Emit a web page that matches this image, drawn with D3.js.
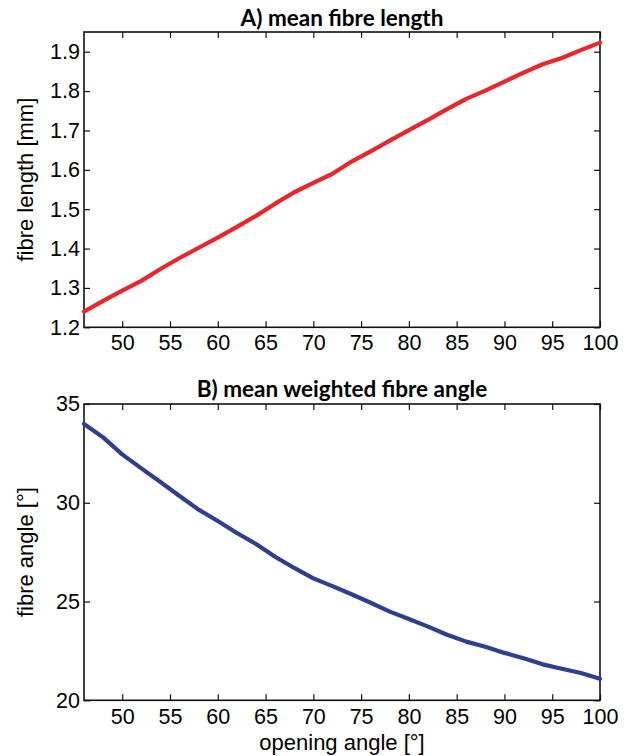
<!DOCTYPE html>
<html>
<head>
<meta charset="utf-8">
<script src="https://cdn.jsdelivr.net/npm/d3@7"></script>
<style>
  body { margin: 0; background: #fff; }
  svg text { font-family: "Liberation Sans", Arial, sans-serif; fill: #000; }
  .title { font-family: Lato, "Open Sans", sans-serif; font-weight: bold; }
</style>
</head>
<body>
<div id="chart"></div>
<script>
// opening angle (degrees)
var angles = [46, 48, 50, 52, 54, 56, 58, 60, 62, 64, 66, 68, 70, 72,
              74, 76, 78, 80, 82, 84, 86, 88, 90, 92, 94, 96, 98, 100];
// A) mean fibre length [mm]
var fibreLength = [1.240, 1.267, 1.293, 1.318, 1.348, 1.376, 1.402, 1.428, 1.455, 1.483,
                   1.514, 1.543, 1.567, 1.590, 1.621, 1.647, 1.674, 1.701, 1.727, 1.754,
                   1.780, 1.801, 1.824, 1.847, 1.868, 1.884, 1.904, 1.923];
// B) mean weighted fibre angle [deg]
var fibreAngle = [33.99, 33.31, 32.45, 31.74, 31.05, 30.34, 29.65, 29.08, 28.47, 27.91,
                  27.27, 26.70, 26.17, 25.78, 25.37, 24.94, 24.49, 24.12, 23.73, 23.32,
                  22.97, 22.71, 22.40, 22.13, 21.82, 21.60, 21.38, 21.09];

var xTicks = [50, 55, 60, 65, 70, 75, 80, 85, 90, 95, 100];
var lengthTicks = [1.2, 1.3, 1.4, 1.5, 1.6, 1.7, 1.8, 1.9];
var angleTicks = [20, 25, 30, 35];

var width = 632, height = 756;
var left = 84, right = 600;

var svg = d3.select("#chart")
    .append("svg")
    .attr("width", width)
    .attr("height", height);

var x = d3.scaleLinear().domain([46, 100]).range([left, right]);

function drawPanel(opts) {
    var y = d3.scaleLinear().domain(opts.domain).range([opts.bottom, opts.top]);
    var g = svg.append("g");

    // frame
    g.append("rect")
        .attr("x", left)
        .attr("y", opts.top)
        .attr("width", right - left)
        .attr("height", opts.bottom - opts.top)
        .attr("fill", "none")
        .attr("stroke", "#111")
        .attr("stroke-width", 1.6);

    // bottom axis with labels
    var xa = g.append("g")
        .attr("transform", "translate(0," + opts.bottom + ")")
        .call(d3.axisBottom(x).tickValues(xTicks).tickSizeInner(-6).tickSizeOuter(0).tickPadding(opts.xPad));
    // top ticks only
    var xt = g.append("g")
        .attr("transform", "translate(0," + opts.top + ")")
        .call(d3.axisTop(x).tickValues(xTicks).tickSizeInner(-6).tickSizeOuter(0).tickFormat(""));
    // left axis with labels
    var ya = g.append("g")
        .attr("transform", "translate(" + left + ",0)")
        .call(d3.axisLeft(y).tickValues(opts.ticks).tickSizeInner(-6).tickSizeOuter(0).tickPadding(4).tickFormat(opts.fmt));
    // right ticks only
    var yr = g.append("g")
        .attr("transform", "translate(" + right + ",0)")
        .call(d3.axisRight(y).tickValues(opts.ticks).tickSizeInner(-6).tickSizeOuter(0).tickFormat(""));

    [xa, xt, ya, yr].forEach(function (a) {
        a.select(".domain").remove();
        a.selectAll(".tick line").attr("stroke", "#111").attr("stroke-width", 1.2);
        a.selectAll(".tick text")
            .attr("font-family", "Liberation Sans, Arial, sans-serif")
            .attr("font-size", 21.5)
            .attr("fill", "#000");
    });

    // data line
    var line = d3.line()
        .x(function (d, i) { return x(angles[i]); })
        .y(function (d) { return y(d); });

    g.append("path")
        .datum(opts.values)
        .attr("d", line)
        .attr("fill", "none")
        .attr("stroke", opts.color)
        .attr("stroke-width", 4.2)
        .attr("stroke-linejoin", "round")
        .attr("stroke-linecap", "round");

    // title
    g.append("text")
        .attr("class", "title")
        .attr("x", (left + right) / 2)
        .attr("y", opts.titleY)
        .attr("text-anchor", "middle")
        .attr("font-size", 22.5)
        .text(opts.title);

    // y label
    g.append("text")
        .attr("transform", "translate(33," + ((opts.top + opts.bottom) / 2) + ") rotate(-90)")
        .attr("text-anchor", "middle")
        .attr("font-size", 22)
        .text(opts.ylabel);
}

drawPanel({
    top: 32, bottom: 327.3,
    domain: [1.2, 1.95],
    ticks: lengthTicks,
    fmt: d3.format(".1f"),
    values: fibreLength,
    color: "#e8262b",
    title: "A) mean fibre length",
    titleY: 26,
    ylabel: "fibre length [mm]",
    xPad: 7
});

drawPanel({
    top: 404, bottom: 700.3,
    domain: [20, 35],
    ticks: angleTicks,
    fmt: d3.format("d"),
    values: fibreAngle,
    color: "#2e3e91",
    title: "B) mean weighted fibre angle",
    titleY: 397,
    ylabel: "fibre angle [°]",
    xPad: 8
});

// x label
svg.append("text")
    .attr("x", (left + right) / 2)
    .attr("y", 750)
    .attr("text-anchor", "middle")
    .attr("font-size", 22)
    .text("opening angle [°]");
</script>
</body>
</html>
